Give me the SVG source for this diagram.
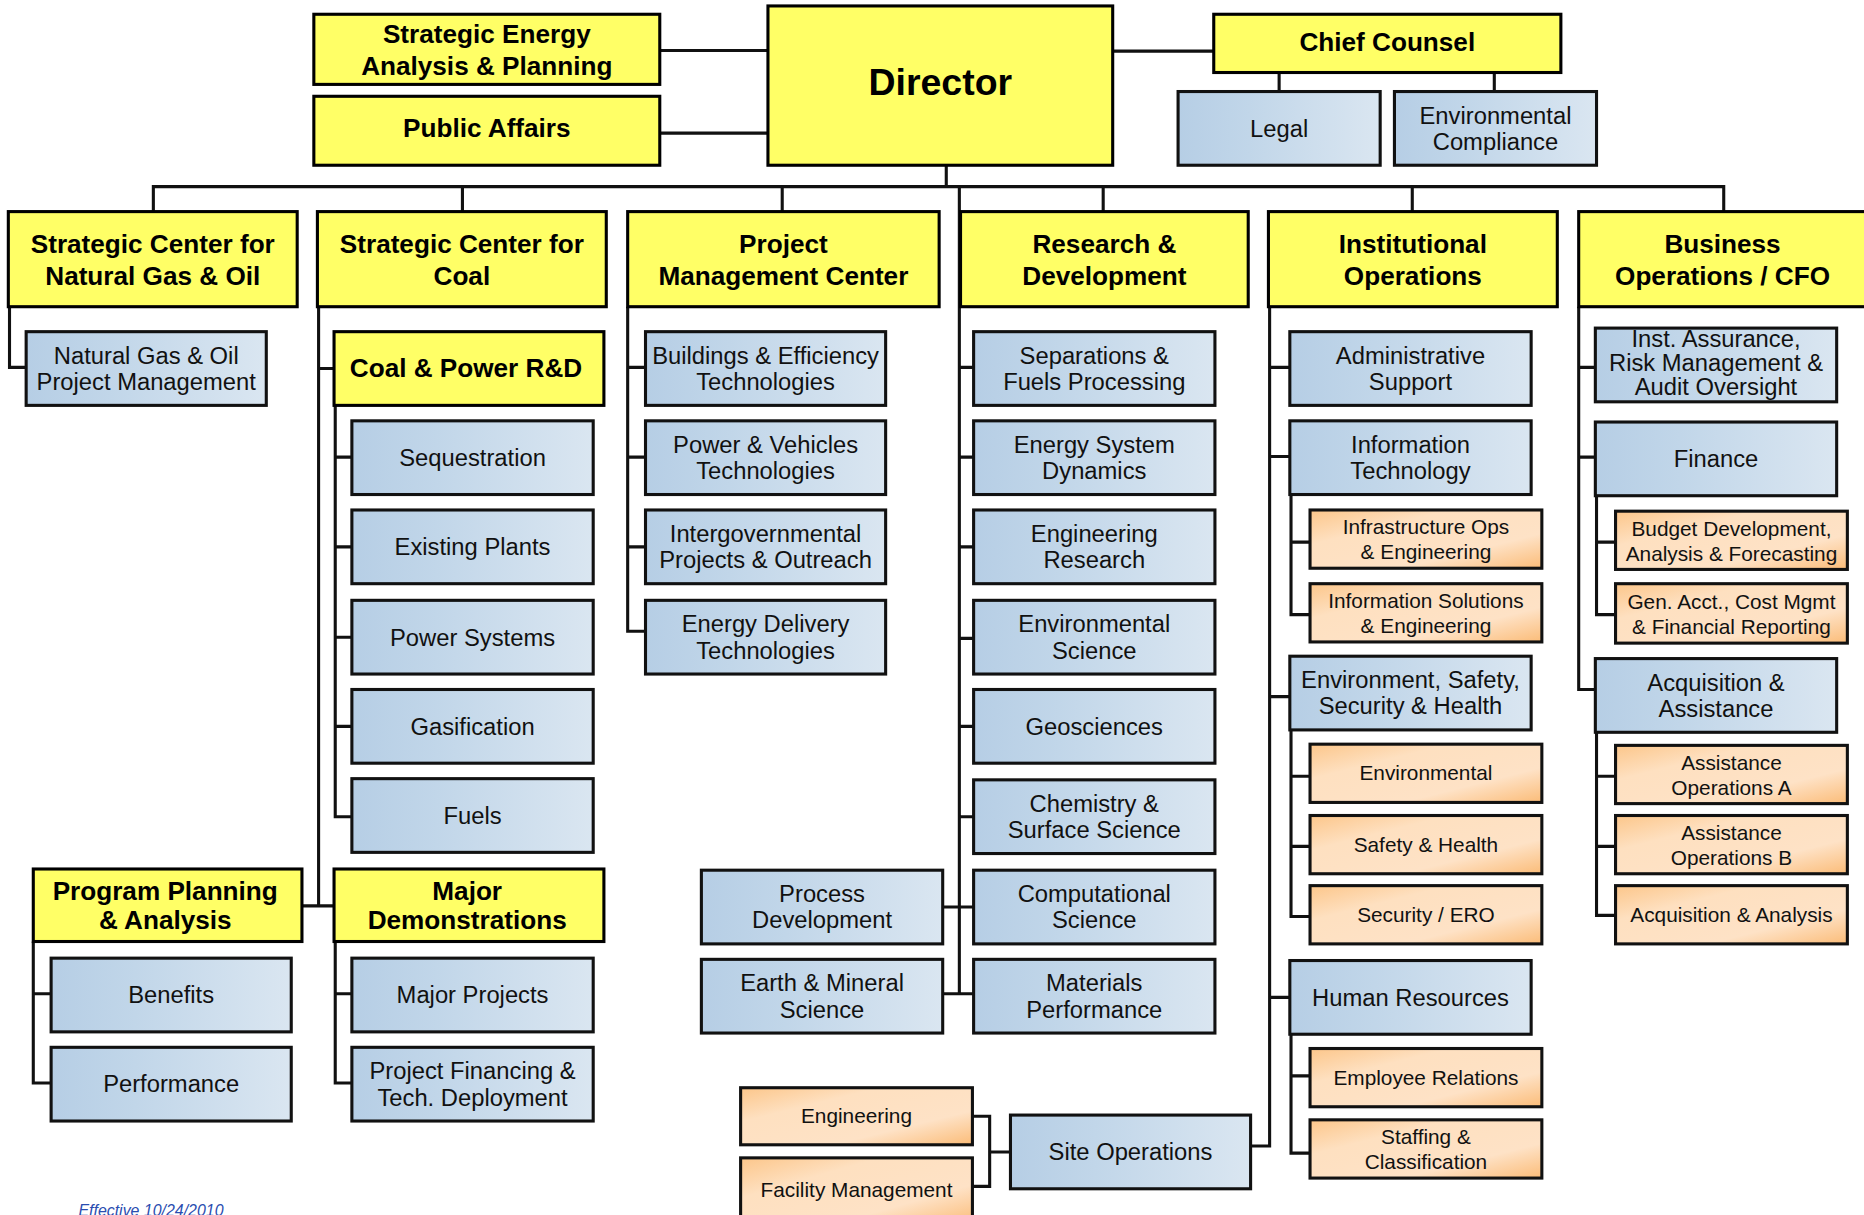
<svg xmlns="http://www.w3.org/2000/svg" width="1864" height="1215" viewBox="0 0 1864 1215">
<defs>
<linearGradient id="gb" x1="0" y1="0" x2="1" y2="0">
<stop offset="0" stop-color="#b6cee5"/>
<stop offset="0.35" stop-color="#c1d6e9"/>
<stop offset="1" stop-color="#dae6f1"/>
</linearGradient>
<linearGradient id="go" x1="0" y1="0" x2="1" y2="1">
<stop offset="0" stop-color="#fcc68a"/>
<stop offset="0.3" stop-color="#fee0c0"/>
<stop offset="0.7" stop-color="#fee2c6"/>
<stop offset="1" stop-color="#fbbc78"/>
</linearGradient>
<style>
.y{fill:#ffff66;stroke:#000;stroke-width:2.6}
.b{fill:url(#gb);stroke:#111;stroke-width:2.6}
.o{fill:url(#go);stroke:#111;stroke-width:2.6}
text{font-family:"Liberation Sans",Arial,sans-serif;text-anchor:middle}
.tb{font-weight:bold;font-size:22px;fill:#000}
.td{font-weight:bold;font-size:31.5px;fill:#000}
.tr{font-size:20px;fill:#111}
.to{font-size:17.5px;fill:#111}
.c{fill:none;stroke:#111;stroke-width:2.6}
.ft{font-style:italic;font-size:13.4px;fill:#2a4db0;text-anchor:start}
</style>
</defs>
<rect width="1864" height="1215" fill="#fff"/>
<g transform="scale(1.18878)">
<g id="connectors">
<path class="c" d="M555,42.5H646M555,112H646M936,43H1021M1076,61V77M1257,61V77M796,139V157"/>
<path class="c" d="M129,178V157H1450V178M389,157V178M658,157V178M928,157V178M1188,157V178"/>
<path class="c" d="M807,157V836M807,309H819M807,384.5H819M807,460H819M807,537H819M807,611H819M807,687H819M792.6,763H819M792.6,836H819"/>
<path class="c" d="M8,258V309H22"/>
<path class="c" d="M268,258V762M268,310H281M254,762H281"/>
<path class="c" d="M282,341V687H296M282,384.5H296M282,460H296M282,536H296M282,611H296"/>
<path class="c" d="M28,792V911H43M28,836H43"/>
<path class="c" d="M282,792V911H296M282,836H296"/>
<path class="c" d="M528,258V531H543M528,309H543M528,384.5H543M528,460H543"/>
<path class="c" d="M1068,258V964H1052M1068,309H1085M1068,384H1085M1068,586H1085M1068,839H1085"/>
<path class="c" d="M1086,416V517H1102M1086,456H1102"/>
<path class="c" d="M1086,614V771H1102M1086,653H1102M1086,712H1102"/>
<path class="c" d="M1086,870V970H1102M1086,905H1102"/>
<path class="c" d="M818,939H832.5V998H818M832.5,969H850"/>
<path class="c" d="M1328,258V580H1342M1328,309H1342M1328,384.5H1342"/>
<path class="c" d="M1343,417V517H1359M1343,456H1359"/>
<path class="c" d="M1343,616V770H1359M1343,653H1359M1343,712H1359"/>
</g>

<g id="n-sea"><rect class="y" x="264" y="12" width="291" height="59"/><text class="tb" x="409.5" y="36.5">Strategic Energy</text><text class="tb" x="409.5" y="63">Analysis &amp; Planning</text></g>
<g id="n-pa"><rect class="y" x="264" y="81" width="291" height="58"/><text class="tb" x="409.5" y="115">Public Affairs</text></g>
<g id="n-director"><rect class="y" x="646" y="5" width="290" height="134"/><text class="td" x="791" y="80">Director</text></g>
<g id="n-cc"><rect class="y" x="1021" y="12" width="292" height="49"/><text class="tb" x="1167" y="42.5">Chief Counsel</text></g>
<g id="n-legal"><rect class="b" x="991" y="77" width="170" height="62"/><text class="tr" x="1076" y="115">Legal</text></g>
<g id="n-envcomp"><rect class="b" x="1173" y="77" width="170" height="62"/><text class="tr" x="1258" y="104">Environmental</text><text class="tr" x="1258" y="126">Compliance</text></g>

<g id="n-ngo"><rect class="y" x="7" y="178" width="243" height="80"/><text class="tb" x="128.5" y="213">Strategic Center for</text><text class="tb" x="128.5" y="240">Natural Gas &amp; Oil</text></g>
<g id="n-coal"><rect class="y" x="267" y="178" width="243" height="80"/><text class="tb" x="388.5" y="213">Strategic Center for</text><text class="tb" x="388.5" y="240">Coal</text></g>
<g id="n-pmc"><rect class="y" x="528" y="178" width="262" height="80"/><text class="tb" x="659" y="213">Project</text><text class="tb" x="659" y="240">Management Center</text></g>
<g id="n-rd"><rect class="y" x="808" y="178" width="242" height="80"/><text class="tb" x="929" y="213">Research &amp;</text><text class="tb" x="929" y="240">Development</text></g>
<g id="n-io"><rect class="y" x="1067" y="178" width="243" height="80"/><text class="tb" x="1188.5" y="213">Institutional</text><text class="tb" x="1188.5" y="240">Operations</text></g>
<g id="n-bo"><rect class="y" x="1328" y="178" width="250" height="80"/><text class="tb" x="1449" y="213">Business</text><text class="tb" x="1449" y="240">Operations / CFO</text></g>

<g id="n-ngopm"><rect class="b" x="22" y="279" width="202" height="62"/><text class="tr" x="123" y="306">Natural Gas &amp; Oil</text><text class="tr" x="123" y="328">Project Management</text></g>

<g id="n-cprd"><rect class="y" x="281" y="279" width="227" height="62"/><text class="tb" x="392" y="317">Coal &amp; Power R&amp;D</text></g>
<g id="n-seq"><rect class="b" x="296" y="354" width="203" height="62"/><text class="tr" x="397.5" y="392">Sequestration</text></g>
<g id="n-exist"><rect class="b" x="296" y="429" width="203" height="62"/><text class="tr" x="397.5" y="467">Existing Plants</text></g>
<g id="n-power"><rect class="b" x="296" y="505" width="203" height="62"/><text class="tr" x="397.5" y="543">Power Systems</text></g>
<g id="n-gas"><rect class="b" x="296" y="580" width="203" height="62"/><text class="tr" x="397.5" y="618">Gasification</text></g>
<g id="n-fuels"><rect class="b" x="296" y="655" width="203" height="62"/><text class="tr" x="397.5" y="693">Fuels</text></g>

<g id="n-ppa"><rect class="y" x="28" y="731" width="226" height="61"/><text class="tb" x="139" y="757">Program Planning</text><text class="tb" x="139" y="781.5">&amp; Analysis</text></g>
<g id="n-md"><rect class="y" x="281" y="731" width="227" height="61"/><text class="tb" x="393" y="757">Major</text><text class="tb" x="393" y="781.5">Demonstrations</text></g>
<g id="n-benefits"><rect class="b" x="43" y="806" width="202" height="62"/><text class="tr" x="144" y="844">Benefits</text></g>
<g id="n-perf"><rect class="b" x="43" y="881" width="202" height="62"/><text class="tr" x="144" y="919">Performance</text></g>
<g id="n-majproj"><rect class="b" x="296" y="806" width="203" height="62"/><text class="tr" x="397.5" y="844">Major Projects</text></g>
<g id="n-projfin"><rect class="b" x="296" y="881" width="203" height="62"/><text class="tr" x="397.5" y="908">Project Financing &amp;</text><text class="tr" x="397.5" y="930">Tech. Deployment</text></g>

<g id="n-bet"><rect class="b" x="543" y="279" width="202" height="62"/><text class="tr" x="644" y="306">Buildings &amp; Efficiency</text><text class="tr" x="644" y="328">Technologies</text></g>
<g id="n-pvt"><rect class="b" x="543" y="354" width="202" height="62"/><text class="tr" x="644" y="381">Power &amp; Vehicles</text><text class="tr" x="644" y="403">Technologies</text></g>
<g id="n-igpo"><rect class="b" x="543" y="429" width="202" height="62"/><text class="tr" x="644" y="456">Intergovernmental</text><text class="tr" x="644" y="478">Projects &amp; Outreach</text></g>
<g id="n-edt"><rect class="b" x="543" y="505" width="202" height="62"/><text class="tr" x="644" y="532">Energy Delivery</text><text class="tr" x="644" y="554">Technologies</text></g>

<g id="n-sfp"><rect class="b" x="819" y="279" width="203" height="62"/><text class="tr" x="920.5" y="306">Separations &amp;</text><text class="tr" x="920.5" y="328">Fuels Processing</text></g>
<g id="n-esd"><rect class="b" x="819" y="354" width="203" height="62"/><text class="tr" x="920.5" y="381">Energy System</text><text class="tr" x="920.5" y="403">Dynamics</text></g>
<g id="n-er"><rect class="b" x="819" y="429" width="203" height="62"/><text class="tr" x="920.5" y="456">Engineering</text><text class="tr" x="920.5" y="478">Research</text></g>
<g id="n-es"><rect class="b" x="819" y="505" width="203" height="62"/><text class="tr" x="920.5" y="532">Environmental</text><text class="tr" x="920.5" y="554">Science</text></g>
<g id="n-geo"><rect class="b" x="819" y="580" width="203" height="62"/><text class="tr" x="920.5" y="618">Geosciences</text></g>
<g id="n-css"><rect class="b" x="819" y="656" width="203" height="62"/><text class="tr" x="920.5" y="683">Chemistry &amp;</text><text class="tr" x="920.5" y="705">Surface Science</text></g>
<g id="n-cs"><rect class="b" x="819" y="732" width="203" height="62"/><text class="tr" x="920.5" y="759">Computational</text><text class="tr" x="920.5" y="781">Science</text></g>
<g id="n-mp"><rect class="b" x="819" y="807" width="203" height="62"/><text class="tr" x="920.5" y="834">Materials</text><text class="tr" x="920.5" y="856">Performance</text></g>
<g id="n-pd"><rect class="b" x="590" y="732" width="203" height="62"/><text class="tr" x="691.5" y="759">Process</text><text class="tr" x="691.5" y="781">Development</text></g>
<g id="n-ems"><rect class="b" x="590" y="807" width="203" height="62"/><text class="tr" x="691.5" y="834">Earth &amp; Mineral</text><text class="tr" x="691.5" y="856">Science</text></g>

<g id="n-eng"><rect class="o" x="623" y="915" width="195" height="48"/><text class="to" x="720.5" y="945">Engineering</text></g>
<g id="n-fm"><rect class="o" x="623" y="974" width="195" height="56"/><text class="to" x="720.5" y="1006.5">Facility Management</text></g>
<g id="n-siteops"><rect class="b" x="850" y="938" width="202" height="62"/><text class="tr" x="951" y="976">Site Operations</text></g>

<g id="n-admin"><rect class="b" x="1085" y="279" width="203" height="62"/><text class="tr" x="1186.5" y="306">Administrative</text><text class="tr" x="1186.5" y="328">Support</text></g>
<g id="n-it"><rect class="b" x="1085" y="354" width="203" height="62"/><text class="tr" x="1186.5" y="381">Information</text><text class="tr" x="1186.5" y="403">Technology</text></g>
<g id="n-infra"><rect class="o" x="1102" y="429" width="195" height="49"/><text class="to" x="1199.5" y="449.5">Infrastructure Ops</text><text class="to" x="1199.5" y="470.5">&amp; Engineering</text></g>
<g id="n-infosol"><rect class="o" x="1102" y="491" width="195" height="49"/><text class="to" x="1199.5" y="511.5">Information Solutions</text><text class="to" x="1199.5" y="532.5">&amp; Engineering</text></g>
<g id="n-essh"><rect class="b" x="1085" y="552" width="203" height="62"/><text class="tr" x="1186.5" y="579">Environment, Safety,</text><text class="tr" x="1186.5" y="601">Security &amp; Health</text></g>
<g id="n-envl"><rect class="o" x="1102" y="626" width="195" height="49"/><text class="to" x="1199.5" y="656.5">Environmental</text></g>
<g id="n-sh"><rect class="o" x="1102" y="686" width="195" height="49"/><text class="to" x="1199.5" y="716.5">Safety &amp; Health</text></g>
<g id="n-sec"><rect class="o" x="1102" y="745" width="195" height="49"/><text class="to" x="1199.5" y="775.5">Security / ERO</text></g>
<g id="n-hr"><rect class="b" x="1085" y="808" width="203" height="62"/><text class="tr" x="1186.5" y="846">Human Resources</text></g>
<g id="n-er2"><rect class="o" x="1102" y="882" width="195" height="49"/><text class="to" x="1199.5" y="912.5">Employee Relations</text></g>
<g id="n-staff"><rect class="o" x="1102" y="942" width="195" height="49"/><text class="to" x="1199.5" y="962.5">Staffing &amp;</text><text class="to" x="1199.5" y="983.5">Classification</text></g>

<g id="n-iara"><rect class="b" x="1342" y="276" width="203" height="62"/><text class="tr" x="1443.5" y="292">Inst. Assurance,</text><text class="tr" x="1443.5" y="312">Risk Management &amp;</text><text class="tr" x="1443.5" y="332">Audit Oversight</text></g>
<g id="n-fin"><rect class="b" x="1342" y="355" width="203" height="62"/><text class="tr" x="1443.5" y="393">Finance</text></g>
<g id="n-budget"><rect class="o" x="1359" y="430" width="195" height="49"/><text class="to" x="1456.5" y="450.5">Budget Development,</text><text class="to" x="1456.5" y="471.5">Analysis &amp; Forecasting</text></g>
<g id="n-genacct"><rect class="o" x="1359" y="491" width="195" height="50"/><text class="to" x="1456.5" y="512">Gen. Acct., Cost Mgmt</text><text class="to" x="1456.5" y="533">&amp; Financial Reporting</text></g>
<g id="n-acqa"><rect class="b" x="1342" y="554" width="203" height="62"/><text class="tr" x="1443.5" y="581">Acquisition &amp;</text><text class="tr" x="1443.5" y="603">Assistance</text></g>
<g id="n-aoa"><rect class="o" x="1359" y="627" width="195" height="49"/><text class="to" x="1456.5" y="647.5">Assistance</text><text class="to" x="1456.5" y="668.5">Operations A</text></g>
<g id="n-aob"><rect class="o" x="1359" y="686" width="195" height="49"/><text class="to" x="1456.5" y="706.5">Assistance</text><text class="to" x="1456.5" y="727.5">Operations B</text></g>
<g id="n-acqan"><rect class="o" x="1359" y="745" width="195" height="49"/><text class="to" x="1456.5" y="775.5">Acquisition &amp; Analysis</text></g>

<text class="ft" x="66" y="1022.5">Effective 10/24/2010</text>
</g>
</svg>
